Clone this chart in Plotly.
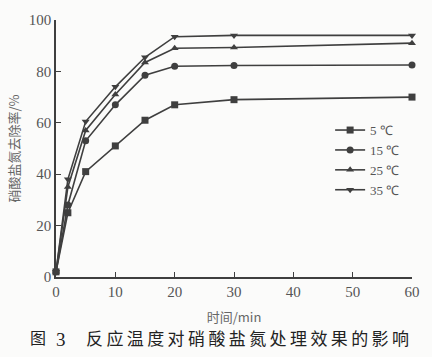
import plotly.graph_objects as go

times = [0, 2, 5, 10, 15, 20, 30, 60]
labels = ["5 ℃", "15 ℃", "25 ℃", "35 ℃"]
s5 = [2, 25, 41, 51, 61, 67, 69, 70]
s15 = [2, 28, 53, 67, 78.5, 82, 82.3, 82.5]
s25 = [2, 35, 57, 71, 83.5, 89, 89.3, 91]
s35 = [2, 38, 60.5, 74, 85.5, 93.5, 94, 94]
series = [s5, s15, s25, s35]
symbols = ["square", "circle", "triangle-up", "triangle-down"]

xticks = [0, 10, 20, 30, 40, 50, 60]
yticks = [0, 20, 40, 60, 80, 100]
caption = "反应温度对硝酸盐氮处理效果的影响"

line_col = "#3f3f3f"
fig = go.Figure()
for lab, vals, sym in zip(labels, series, symbols):
    fig.add_trace(go.Scatter(
        x=times, y=vals, name=lab, mode="lines+markers",
        line=dict(color=line_col, width=1.6),
        marker=dict(symbol=sym, size=7, color=line_col),
        cliponaxis=False,
    ))

serif = "Liberation Serif, Times New Roman, serif"
cjk = "Noto Sans CJK SC"
fig.update_layout(
    width=432, height=357,
    margin=dict(l=56, r=15, t=15, b=80),
    plot_bgcolor="#fbfbfa", paper_bgcolor="#fbfbfa",
    showlegend=True,
    legend=dict(x=0.77, y=0.63, xanchor="left", yanchor="top",
                bgcolor="rgba(0,0,0,0)", font=dict(family=serif, size=13, color="#555"),
                tracegroupgap=0, itemwidth=30),
    xaxis=dict(range=[0, 60], tickvals=xticks, ticks="inside", ticklen=5,
               tickcolor=line_col, showline=True, linecolor=line_col, linewidth=1.5,
               showgrid=False, zeroline=False,
               tickfont=dict(family=serif, size=15, color="#555"),
               title=dict(text="时间/min", font=dict(family=cjk, size=13, color="#666"), standoff=14)),
    yaxis=dict(range=[0, 100], tickvals=yticks, ticks="inside", ticklen=5,
               tickcolor=line_col, showline=True, linecolor=line_col, linewidth=1.5,
               showgrid=False, zeroline=False,
               tickfont=dict(family=serif, size=15, color="#555"),
               title=dict(text="硝酸盐氮去除率/%", font=dict(family=cjk, size=13, color="#666"), standoff=6)),
)
fig.add_annotation(xref="paper", yref="paper", x=-0.078, y=-0.235, xanchor="left", yanchor="middle",
                   text="图", showarrow=False,
                   font=dict(family=cjk, size=16, color="#222"))
fig.add_annotation(xref="paper", yref="paper", x=-0.005, y=-0.245, xanchor="left", yanchor="middle",
                   text="3", showarrow=False,
                   font=dict(family=serif, size=19, color="#222"))
fig.add_annotation(xref="paper", yref="paper", x=0.08, y=-0.235, xanchor="left", yanchor="middle",
                   text="\u2009".join(caption), showarrow=False,
                   font=dict(family=cjk, size=17, color="#222"))
fig.write_html("out.html")
